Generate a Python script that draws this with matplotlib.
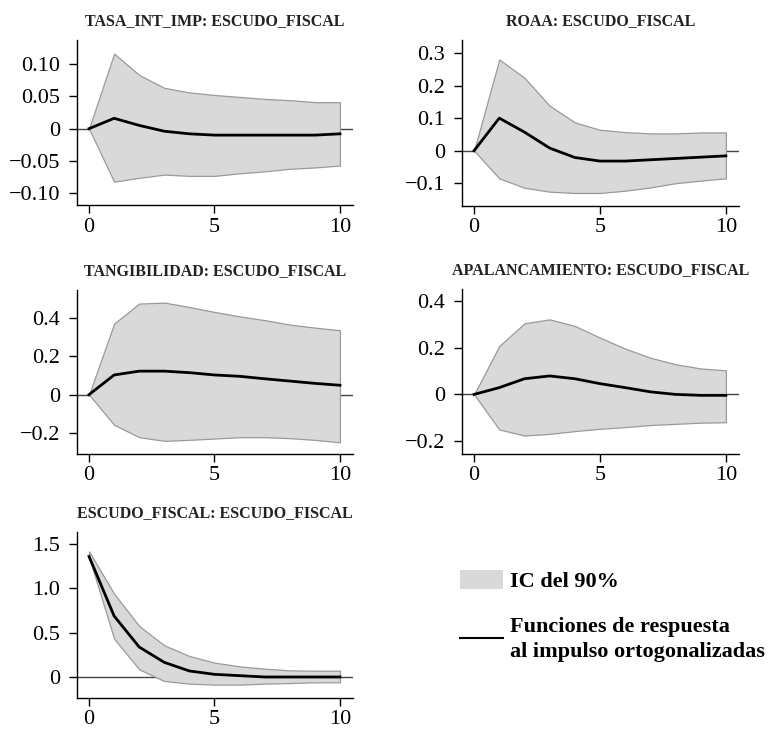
import matplotlib
matplotlib.use("Agg")
import matplotlib.pyplot as plt
from matplotlib.patches import Patch
from matplotlib.lines import Line2D

plt.rcParams['font.family'] = ['Liberation Serif', 'DejaVu Serif']
plt.rcParams['axes.unicode_minus'] = True

steps = list(range(11))

titles = [
    "TASA_INT_IMP: ESCUDO_FISCAL",
    "ROAA: ESCUDO_FISCAL",
    "TANGIBILIDAD: ESCUDO_FISCAL",
    "APALANCAMIENTO: ESCUDO_FISCAL",
    "ESCUDO_FISCAL: ESCUDO_FISCAL",
]

# impulse response and 90% band, one list per panel
irf_tasa = [0, 0.016, 0.005, -0.004, -0.008, -0.010, -0.010, -0.010, -0.010, -0.010, -0.008]
up_tasa = [0, 0.116, 0.083, 0.063, 0.056, 0.052, 0.049, 0.046, 0.044, 0.041, 0.041]
lo_tasa = [0, -0.082, -0.076, -0.071, -0.073, -0.073, -0.069, -0.066, -0.062, -0.060, -0.057]

irf_roaa = [0, 0.100, 0.057, 0.008, -0.021, -0.032, -0.032, -0.028, -0.024, -0.020, -0.016]
up_roaa = [0, 0.280, 0.224, 0.138, 0.087, 0.064, 0.057, 0.053, 0.053, 0.056, 0.056]
lo_roaa = [0, -0.085, -0.114, -0.126, -0.130, -0.130, -0.123, -0.113, -0.100, -0.092, -0.085]

irf_tang = [0, 0.103, 0.123, 0.123, 0.115, 0.103, 0.096, 0.083, 0.071, 0.059, 0.049]
up_tang = [0, 0.372, 0.477, 0.482, 0.459, 0.433, 0.410, 0.390, 0.367, 0.351, 0.337]
lo_tang = [0, -0.158, -0.223, -0.242, -0.237, -0.230, -0.223, -0.223, -0.228, -0.237, -0.250]

irf_apal = [0, 0.029, 0.067, 0.079, 0.067, 0.046, 0.029, 0.011, 0.000, -0.004, -0.004]
up_apal = [0, 0.207, 0.304, 0.321, 0.293, 0.243, 0.196, 0.157, 0.129, 0.111, 0.103]
lo_apal = [0, -0.150, -0.176, -0.169, -0.157, -0.147, -0.140, -0.131, -0.126, -0.121, -0.119]

irf_escu = [1.36, 0.688, 0.338, 0.165, 0.068, 0.030, 0.015, 0.0, 0.0, 0.0, 0.0]
up_escu = [1.417, 0.940, 0.575, 0.357, 0.237, 0.162, 0.120, 0.094, 0.075, 0.071, 0.071]
lo_escu = [1.353, 0.432, 0.086, -0.045, -0.075, -0.086, -0.086, -0.075, -0.068, -0.060, -0.060]

irfs = [irf_tasa, irf_roaa, irf_tang, irf_apal, irf_escu]
uppers = [up_tasa, up_roaa, up_tang, up_apal, up_escu]
lowers = [lo_tasa, lo_roaa, lo_tang, lo_apal, lo_escu]

yticks = [
    [0.10, 0.05, 0, -0.05, -0.10],
    [0.3, 0.2, 0.1, 0, -0.1],
    [0.4, 0.2, 0, -0.2],
    [0.4, 0.2, 0, -0.2],
    [1.5, 1.0, 0.5, 0],
]
ylabels = [
    ["0.10", "0.05", "0", "\u22120.05", "\u22120.10"],
    ["0.3", "0.2", "0.1", "0", "\u22120.1"],
    ["0.4", "0.2", "0", "\u22120.2"],
    ["0.4", "0.2", "0", "\u22120.2"],
    ["1.5", "1.0", "0.5", "0"],
]
ylims = [(-0.118, 0.137), (-0.17, 0.34), (-0.311, 0.548), (-0.255, 0.451), (-0.237, 1.636)]

W, H = 775, 731
fig = plt.figure(figsize=(W / 100, H / 100), dpi=100)

# axes boxes in pixels: left, top, right, bottom
boxes = [
    (77, 40, 353, 205),
    (462, 40, 739, 206),
    (77, 290, 353, 454),
    (462, 289, 739, 454),
    (77, 532, 353, 698),
]

band_col = "#d9d9d9"
edge_col = "#9a9a9a"

for i in range(5):
    l, t, r, b = boxes[i]
    ax = fig.add_axes([l / W, 1 - b / H, (r - l) / W, (b - t) / H])
    ax.axhline(0, color="#444444", lw=1.0, zorder=1)
    ax.fill_between(steps, lowers[i], uppers[i], facecolor=band_col,
                    edgecolor=edge_col, lw=0.9, zorder=2)
    ax.plot(steps, irfs[i], color="black", lw=2.0, zorder=3)
    ax.set_xlim(-0.48, 10.52)
    ax.set_ylim(*ylims[i])
    ax.set_xticks([0, 5, 10])
    ax.set_xticklabels(["0", "5", "10"])
    ax.set_yticks(yticks[i])
    ax.set_yticklabels(ylabels[i])
    ax.tick_params(axis="both", labelsize=16, length=6, width=1.0, color="black")
    ax.tick_params(axis="y", pad=6)
    ax.tick_params(axis="x", pad=3)
    for s in ["top", "right"]:
        ax.spines[s].set_visible(False)
    for s in ["left", "bottom"]:
        ax.spines[s].set_linewidth(1.0)
    ax.set_title(titles[i], fontsize=11.5, fontweight="bold", pad=11, color="#222222")

handles = [
    Patch(facecolor=band_col, edgecolor="none"),
    Line2D([0], [0], color="black", lw=1.5),
]
labels = ["IC del 90%", "Funciones de respuesta\nal impulso ortogonalizadas"]
leg = fig.legend(handles, labels, loc="upper left", bbox_to_anchor=(440 / W, 1 - 550 / H),
                 frameon=False, prop={"size": 16, "weight": "bold"},
                 handlelength=1.95, handleheight=0.95, handletextpad=0.3, labelspacing=1.1)
for txt in leg.get_texts():
    txt.set_linespacing(1.35)

fig.savefig("out.png", dpi=100)
